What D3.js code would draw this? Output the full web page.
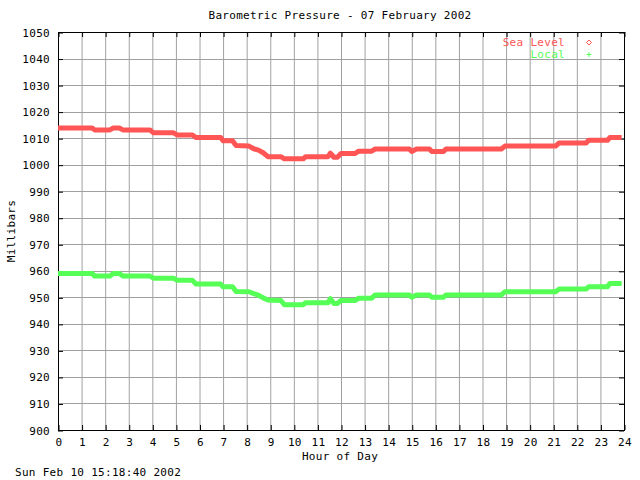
<!DOCTYPE html>
<html><head><meta charset="utf-8">
<script src="https://cdn.jsdelivr.net/npm/d3@7"></script>
<style>
html,body{margin:0;padding:0;background:#fff;}
svg text{font-family:"DejaVu Sans Mono","Liberation Mono",monospace;font-size:11px;fill:#000;letter-spacing:0.3px;}
</style></head>
<body>
<svg id="chart" width="640" height="480"></svg>
<script>
const hours = [0,1.45,1.55,2.2,2.35,2.6,2.75,3.9,4.05,4.9,5.05,5.7,5.85,6.9,7.0,7.4,7.55,8.1,8.3,8.5,8.7,8.9,9.45,9.6,10.4,10.5,11.45,11.55,11.7,11.85,12.0,12.6,12.75,13.3,13.45,14.9,15.0,15.2,15.75,15.85,16.35,16.45,18.8,18.95,21.1,21.25,22.4,22.5,23.3,23.4,23.9];
const seaLevel = [1013.8,1013.8,1013.1,1013.1,1013.8,1013.8,1013.1,1013.1,1012.0,1012.0,1011.2,1011.2,1010.2,1010.2,1009.0,1009.0,1007.2,1007.0,1006.0,1005.5,1004.5,1003.0,1003.0,1002.2,1002.2,1003.0,1003.0,1004.3,1002.8,1002.8,1004.2,1004.2,1005.1,1005.1,1005.9,1005.9,1005.0,1005.9,1005.9,1005.0,1005.0,1005.9,1005.9,1007.0,1007.0,1008.2,1008.2,1009.2,1009.2,1010.2,1010.2];
const local = [959.0,959.0,958.0,958.0,959.0,959.0,958.0,958.0,957.2,957.2,956.4,956.4,955.0,955.0,954.0,954.0,952.2,952.1,951.4,950.8,949.8,949.0,948.8,947.2,947.2,948.0,948.0,949.5,947.7,947.7,948.8,948.8,949.7,949.7,950.9,950.9,950.0,950.9,950.9,950.0,950.0,950.9,950.9,952.1,952.1,953.1,953.1,954.0,954.0,955.2,955.2];
const xTicks = d3.range(0,25,1);
const yTicks = d3.range(900,1051,10);
const seriesNames = ["Sea Level","Local"];
const seriesColors = ["#ff5555","#55ff55"];
const title = "Barometric Pressure - 07 February 2002";
const xTitle = "Hour of Day";
const yTitle = "Millibars";
const stamp = "Sun Feb 10 15:18:40 2002";

const L=58,R=624,T=32,B=430;
const svg = d3.select("#chart");
const x = d3.scaleLinear().domain([0,24]).range([L,R]);
const y = d3.scaleLinear().domain([900,1050]).range([B,T]);

// grid
const g = svg.append("g");
g.selectAll("line.vx").data(xTicks).join("line")
  .attr("x1",d=>x(d)+0.5).attr("x2",d=>x(d)+0.5).attr("y1",T).attr("y2",B)
  .attr("stroke","#a0a0a0").attr("stroke-width",1);
g.selectAll("line.hy").data(yTicks).join("line")
  .attr("y1",d=>Math.round(y(d))+0.5).attr("y2",d=>Math.round(y(d))+0.5).attr("x1",L).attr("x2",R)
  .attr("stroke","#a0a0a0").attr("stroke-width",1);

// axes (ticks inside)
function styleAxis(sel){
  sel.select(".domain").remove();
  sel.selectAll(".tick line").attr("stroke","#000");
}
const xb = svg.append("g").attr("transform",`translate(0.5,${B})`)
  .call(d3.axisBottom(x).tickValues(xTicks).tickSize(-5).tickPadding(8).tickFormat(d3.format("d")));
styleAxis(xb);
xb.selectAll("text").attr("font-family",null).attr("font-size",null);
const xt = svg.append("g").attr("transform",`translate(0.5,${T})`)
  .call(d3.axisTop(x).tickValues(xTicks).tickSize(-5).tickFormat(""));
styleAxis(xt);
const yl = svg.append("g").attr("transform",`translate(${L},0.5)`)
  .call(d3.axisLeft(y).tickValues(yTicks).tickSize(-5).tickPadding(8).tickFormat(d3.format("d")));
styleAxis(yl);
yl.selectAll("text").attr("font-family",null).attr("font-size",null);
const yr = svg.append("g").attr("transform",`translate(${R},0.5)`)
  .call(d3.axisRight(y).tickValues(yTicks).tickSize(-5).tickFormat(""));
styleAxis(yr);

// border
svg.append("rect").attr("x",L+0.5).attr("y",T+0.5).attr("width",R-L).attr("height",B-T)
  .attr("fill","none").attr("stroke","#000").attr("stroke-width",1);

// lines
const line = d3.line().x((d,i)=>x(hours[i])).y(d=>y(d));
[seaLevel,local].forEach((s,i)=>{
  svg.append("path").datum(s).attr("d",line).attr("fill","none")
    .attr("stroke",seriesColors[i]).attr("stroke-width",5).attr("stroke-linejoin","round");
});

// titles
svg.append("text").attr("x",340).attr("y",16).attr("text-anchor","middle").attr("dominant-baseline","middle").text(title);
svg.append("text").attr("x",340).attr("y",457).attr("text-anchor","middle").attr("dominant-baseline","middle").text(xTitle);
svg.append("text").attr("transform","translate(12,231) rotate(-90)").attr("text-anchor","middle").attr("dominant-baseline","middle").text(yTitle);
svg.append("text").attr("x",15).attr("y",473).attr("dominant-baseline","middle").text(stamp);

// legend
const leg = svg.append("g");
seriesNames.forEach((n,i)=>{
  const yy = 43 + i*12;
  leg.append("text").attr("x",565).attr("y",yy).attr("text-anchor","end").attr("dominant-baseline","middle")
    .style("fill",seriesColors[i]).text(n);
});
leg.append("path").attr("d","M589,40 L591.5,42.5 L589,45 L586.5,42.5 Z").attr("fill","none").attr("stroke",seriesColors[0]).attr("stroke-width",1);
leg.append("path").attr("d","M586.5,54.5 H591.5 M589,52 V57").attr("stroke",seriesColors[1]).attr("stroke-width",1);
</script>
</body></html>
